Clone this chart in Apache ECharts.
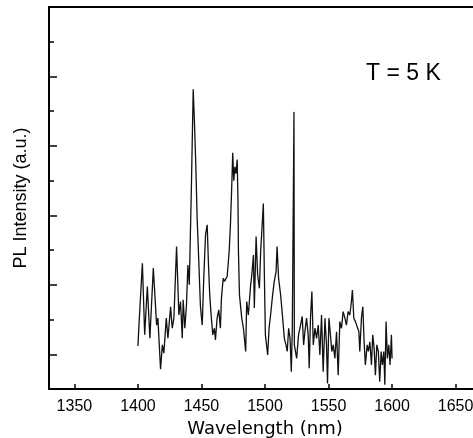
<!DOCTYPE html>
<html>
<head>
<meta charset="utf-8">
<script src="https://cdn.jsdelivr.net/npm/echarts@6/dist/echarts.min.js"></script>
<style>
html,body{margin:0;padding:0;background:#fff;}
#c{width:473px;height:438px;}
</style>
</head>
<body>
<div id="c"></div>
<script>
var wavelength = [1400.0,1400.8,1403.5,1405.3,1407.4,1409.4,1412.1,1414.7,1415.7,1417.8,1419.2,1420.4,1422.3,1423.6,1425.7,1427.0,1428.3,1430.4,1432.2,1433.5,1434.9,1435.6,1436.9,1438.2,1439.3,1440.4,1441.9,1443.5,1444.5,1445.5,1446.6,1447.9,1449.2,1450.6,1451.8,1453.2,1454.5,1455.5,1456.5,1457.6,1458.9,1460.2,1461.0,1462.3,1463.6,1464.9,1465.7,1467.1,1468.1,1470.2,1471.8,1472.8,1473.8,1474.6,1475.4,1476.3,1477.1,1478.1,1478.7,1479.1,1479.9,1481.7,1483.0,1484.8,1485.6,1486.9,1488.7,1489.5,1490.9,1491.6,1493.0,1494.2,1495.6,1496.6,1498.7,1499.5,1500.3,1502.1,1503.2,1504.4,1506.0,1507.3,1508.7,1509.5,1510.7,1512.3,1513.9,1515.2,1516.5,1517.5,1518.6,1519.7,1520.7,1521.5,1522.5,1522.8,1523.1,1524.9,1526.4,1528.0,1529.3,1530.4,1531.4,1532.7,1534.0,1534.8,1535.8,1536.9,1538.0,1539.3,1540.6,1541.9,1543.2,1544.5,1545.8,1547.2,1548.4,1549.2,1550.3,1551.5,1552.6,1553.7,1555.0,1556.3,1557.6,1558.9,1560.2,1561.5,1562.9,1564.1,1565.4,1566.8,1568.0,1568.8,1569.9,1571.2,1572.5,1573.9,1574.6,1575.9,1577.0,1578.0,1579.0,1580.4,1581.4,1582.5,1583.8,1584.8,1585.9,1586.9,1588.0,1589.2,1590.3,1591.4,1592.4,1593.5,1594.3,1595.3,1596.3,1597.4,1598.4,1599.5,1600.0];
var intensity = [1.24,1.84,3.62,1.56,2.95,1.46,3.48,1.84,2.04,0.57,1.27,1.03,2.04,1.46,2.37,1.75,2.04,4.10,2.13,2.52,1.46,2.57,1.75,2.42,3.57,3.00,5.50,8.63,7.65,6.50,4.92,3.67,2.37,1.84,3.20,4.44,4.73,3.60,2.71,2.13,1.56,1.75,1.41,2.04,2.28,1.75,2.61,3.19,3.10,3.24,3.96,4.73,5.80,6.80,6.00,6.40,6.20,6.61,5.50,3.97,2.71,2.04,1.75,1.08,2.52,2.13,3.00,3.24,3.86,2.33,4.39,3.29,2.90,3.96,5.34,3.29,1.56,0.98,1.75,2.13,2.71,3.10,3.38,4.10,3.19,2.71,2.04,1.46,1.27,1.08,1.75,1.46,0.50,1.75,1.80,7.98,1.27,0.88,1.56,1.84,2.09,1.27,1.65,2.04,1.56,0.60,2.04,2.81,1.27,1.75,1.46,1.84,0.98,2.13,0.50,2.04,1.27,0.16,2.04,1.56,1.08,1.27,0.88,1.65,0.40,1.94,1.75,2.23,2.04,1.84,2.23,2.13,2.52,2.85,2.04,1.94,1.94,1.65,1.08,2.04,2.37,1.36,0.69,1.27,1.08,1.36,0.69,1.56,1.17,0.40,1.27,1.08,0.21,1.08,0.69,1.08,0.12,1.94,0.88,1.27,0.69,1.56,0.88];
var xTicks = [1350,1400,1450,1500,1550,1600,1650];
var yMajorTicks = [1,3,5,7,9];
var yMinorTicks = [2,4,6,8,10];

var points = wavelength.map(function(w,i){return [w,intensity[i]];});
var chart = echarts.init(document.getElementById('c'), null, {renderer:'canvas'});
var font = 'Liberation Sans, Arial, Helvetica, sans-serif';
chart.setOption({
  animation:false,
  backgroundColor:'#fff',
  grid:{left:49,top:7,right:-8,bottom:49,containLabel:false,outerBoundsMode:'none'},
  xAxis:[{
    type:'value',min:1330,max:1670,position:'bottom',
    name:'Wavelength (nm)',nameLocation:'middle',nameGap:30,
    nameTextStyle:{fontFamily:'DejaVu Sans',fontSize:18,color:'#000'},
    axisLine:{show:true,onZero:false,lineStyle:{color:'#000',width:2}},
    axisTick:{show:true,inside:true,length:5,customValues:xTicks,lineStyle:{color:'#000',width:1.5}},
    axisLabel:{show:true,customValues:xTicks,margin:10,fontFamily:font,fontSize:16,color:'#000',
      formatter:function(v){return String(v);}},
    splitLine:{show:false}
  },{
    type:'value',min:1330,max:1670,position:'top',
    axisLine:{show:true,onZero:false,lineStyle:{color:'#000',width:2}},
    axisTick:{show:false},axisLabel:{show:false},splitLine:{show:false}
  }],
  yAxis:[{
    type:'value',min:0,max:11,position:'left',
    name:'PL Intensity (a.u.)',nameLocation:'middle',nameGap:19,nameRotate:90,
    nameTextStyle:{fontFamily:font,fontSize:18,color:'#000'},
    axisLine:{show:true,onZero:false,lineStyle:{color:'#000',width:2}},
    axisTick:{show:true,inside:true,length:8,customValues:yMajorTicks,lineStyle:{color:'#000',width:1.5}},
    axisLabel:{show:false},
    splitLine:{show:false}
  },{
    type:'value',min:0,max:11,position:'left',
    axisLine:{show:false},
    axisTick:{show:true,inside:true,length:5,customValues:yMinorTicks,lineStyle:{color:'#000',width:1.5}},
    axisLabel:{show:false},splitLine:{show:false}
  }],
  graphic:[{
    type:'text',left:366,top:62,
    style:{text:'T = 5 K',fontFamily:font,fontSize:23,fill:'#000'}
  }],
  series:[{
    type:'line',xAxisIndex:0,yAxisIndex:0,data:points,
    showSymbol:false,symbol:'none',
    lineStyle:{color:'#111',width:1.3},
    clip:true
  }]
});
</script>
</body>
</html>
